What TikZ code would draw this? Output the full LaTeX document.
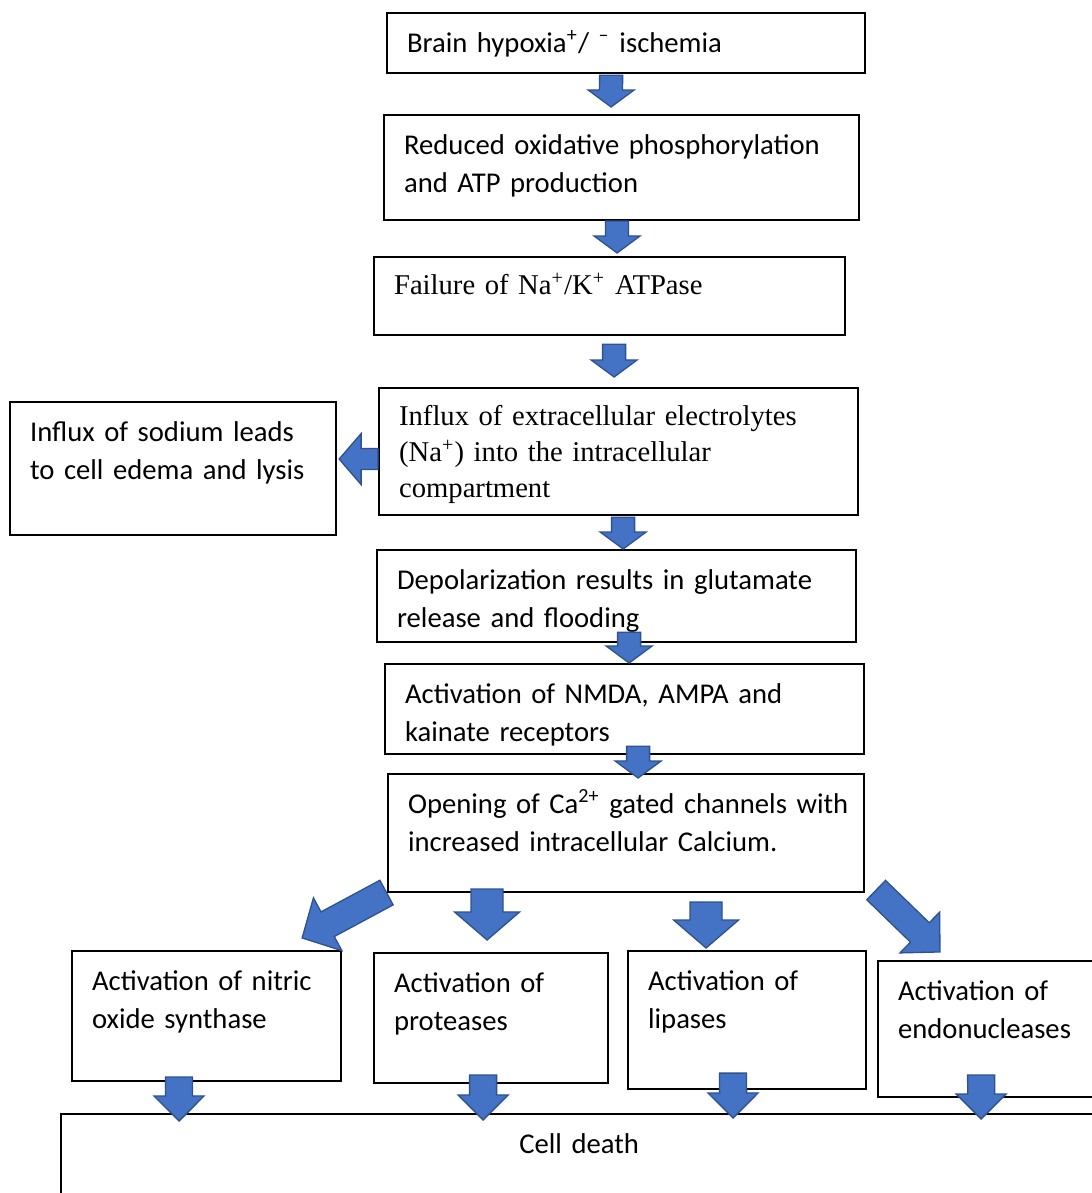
\documentclass[tikz,border=0pt]{standalone}
\usepackage{fontspec}
\setmainfont{Carlito}
\newfontfamily\timesfont{Liberation Serif}
\usetikzlibrary{calc}
\definecolor{arrowblue}{HTML}{4472C4}
\definecolor{arrowedge}{HTML}{2F528F}
\tikzset{
  stepbox/.style={draw, line width=0.8pt, anchor=north west, inner xsep=7.7pt, inner ysep=0pt,
    align=left, text height=15pt, font=\fontsize{11pt}{14.6pt}\selectfont},
  timesbox/.style={stepbox, text height=14.4pt, font=\timesfont\fontsize{11pt}{13.8pt}\selectfont},
  blkfill/.style={fill=arrowblue, draw=arrowedge, line width=0.5pt, line join=miter}
}
% block arrow: from, to, shaft width, head width, head length (in px)
\newcommand{\blockarrow}[5]{%
  \coordinate (ba-s) at (#1);
  \coordinate (ba-e) at (#2);
  \path let \p1=($(ba-e)-(ba-s)$) in \pgfextra{%
    \pgfmathsetmacro\baang{atan2(\y1,\x1)}%
    \pgfmathsetmacro\balen{veclen(\x1,\y1)}%
    \xdef\baang{\baang}\xdef\balen{\balen}};
  \pgfmathsetmacro\basw{#3*0.192}%
  \pgfmathsetmacro\bahw{#4*0.192}%
  \pgfmathsetmacro\babase{\balen-#5*0.384}%
  \filldraw[blkfill, shift={(ba-s)}, rotate=\baang]
    (0pt,-\basw pt) -- (\babase pt,-\basw pt) -- (\babase pt,-\bahw pt)
    -- (\balen pt,0pt) -- (\babase pt,\bahw pt) -- (\babase pt,\basw pt)
    -- (0pt,\basw pt) -- cycle;
}
\hyphenpenalty=10000

\begin{document}
\begin{tikzpicture}[x=0.384pt, y=-0.384pt]
\useasboundingbox (0,0) rectangle (1092,1193);
\clip (0,0) rectangle (1092,1193);

% main chain
\node[stepbox, text width=168.2pt, text depth=8.1pt] (hyp) at (386,12)
  {Brain hypoxia\textsuperscript{+}/ \textsuperscript{--} ischemia};
\node[stepbox, text width=167pt, text depth=25.3pt] (oxp) at (383,114)
  {Reduced oxidative phosphorylation\\and ATP production};
\node[timesbox, text width=165.5pt, text depth=15.6pt] (pump) at (373,256)
  {Failure of Na\textsuperscript{+}/K\textsuperscript{+} ATPase};
\node[timesbox, text width=168.6pt, text depth=34.4pt] (influx) at (378,387)
  {Influx of extracellular electrolytes\\(Na\textsuperscript{+}) into the intracellular\\compartment};
\node[stepbox, text width=109.8pt, text depth=36.1pt] (edema) at (9,401)
  {Influx of sodium leads\\to cell edema and lysis};
\node[stepbox, text width=168.6pt, text depth=20.4pt] (depol) at (376,549)
  {Depolarization results in glutamate\\release and flooding};
\node[stepbox, text width=168.6pt, text depth=19.6pt] (recep) at (384,663)
  {Activation of NMDA, AMPA and\\kainate receptors};
\node[stepbox, text width=167.4pt, text depth=30.3pt] (calc) at (387,773)
  {\mbox{Opening of Ca\textsuperscript{2+} gated channels with}\\increased intracellular Calcium.};

% enzymes
\node[stepbox, text width=87.9pt, text depth=34.9pt] (nos) at (71,950)
  {Activation of nitric\\oxide synthase};
\node[stepbox, text width=74.5pt, text depth=34.9pt] (prot) at (373,952)
  {Activation of\\proteases};
\node[stepbox, text width=76pt, text depth=38pt] (lip) at (627,950)
  {Activation of\\lipases};
\node[stepbox, text width=70.3pt, text depth=37.2pt] (endo) at (877,960)
  {Activation of\\endonucleases};
\node[stepbox, align=center, text width=382.5pt, text depth=23pt] (death) at (60,1113)
  {Cell death};

% arrows
\blockarrow{$(hyp.south)+(-15,1)$}{$(oxp.north)+(-10.5,-7)$}{23}{46}{17}
\blockarrow{$(oxp.south)+(-4.5,0)$}{$(pump.north)+(7.5,-3)$}{23}{46}{17}
\blockarrow{$(pump.south)+(4.5,8)$}{$(influx.north)+(-4.5,-10)$}{23}{46}{17}
\blockarrow{$(influx.west)+(0,7.5)$}{$(edema.east)+(2,-9.5)$}{21}{51}{22}
\blockarrow{$(influx.south)+(4.5,1)$}{$(depol.north)+(6.5,0)$}{23}{46}{17}
\blockarrow{$(depol.south)+(12.5,-11)$}{$(recep.north)+(4.5,0)$}{23}{46}{17}
\blockarrow{$(recep.south)+(13.5,-9)$}{$(calc.north)+(12,5)$}{23}{46}{17}

\blockarrow{$(calc.south west)+(-0.5,-0.5)$}{$(nos.north east)+(-40,-12)$}{28}{60}{29}
\blockarrow{$(calc.south)+(-139,-4)$}{$(prot.north)+(-4,-12)$}{32}{65}{28}
\blockarrow{$(calc.south)+(80,9)$}{$(lip.north)+(-41,-2)$}{32}{65}{28}
\blockarrow{$(calc.south east)+(11,-3)$}{$(endo.north west)+(63,-8)$}{27}{57}{28}

\blockarrow{$(nos.south)+(-27.5,-5)$}{$(death.north)+(-400,8)$}{27}{50}{25}
\blockarrow{$(prot.south)+(-8,-9)$}{$(death.north)+(-96,7)$}{27}{50}{25}
\blockarrow{$(lip.south)+(-14,-17)$}{$(death.north)+(154,5)$}{27}{50}{25}
\blockarrow{$(endo.south)+(-8.5,-23)$}{$(death.north)+(402,6)$}{27}{50}{25}
\end{tikzpicture}
\end{document}
